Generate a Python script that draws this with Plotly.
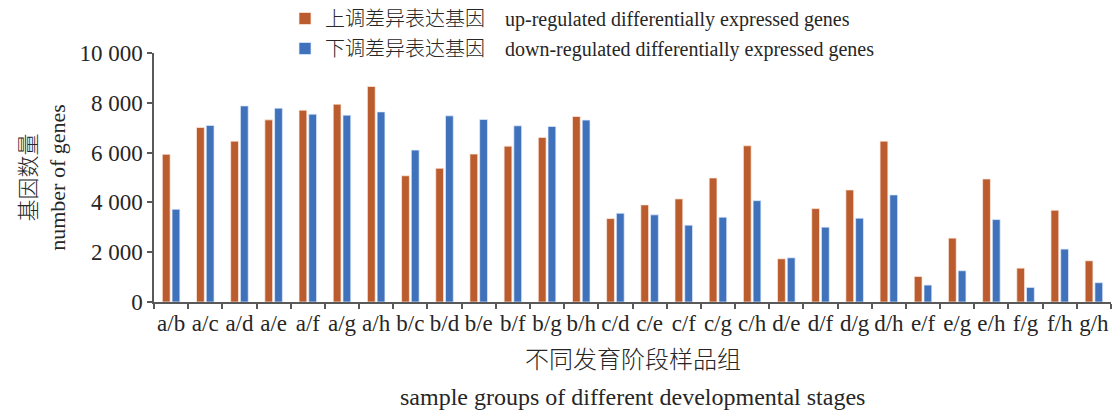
import plotly.graph_objects as go

categories = ["a/b", "a/c", "a/d", "a/e", "a/f", "a/g", "a/h", "b/c", "b/d", "b/e",
              "b/f", "b/g", "b/h", "c/d", "c/e", "c/f", "c/g", "c/h", "d/e", "d/f",
              "d/g", "d/h", "e/f", "e/g", "e/h", "f/g", "f/h", "g/h"]
up_regulated = [5930, 7010, 6460, 7315, 7705, 7945, 8655, 5070, 5370, 5940,
                6260, 6610, 7450, 3350, 3900, 4140, 4980, 6275, 1735, 3750,
                4500, 6460, 1025, 2565, 4940, 1360, 3685, 1655]
down_regulated = [3725, 7090, 7875, 7785, 7545, 7505, 7635, 6100, 7475, 7330,
                  7075, 7050, 7305, 3565, 3500, 3085, 3405, 4070, 1775, 3005,
                  3365, 4300, 680, 1255, 3310, 585, 2125, 775]
y_ticks = [0, 2000, 4000, 6000, 8000, 10000]
y_tick_labels = ["0", "2 000", "4 000", "6 000", "8 000", "10 000"]

SP = "&nbsp;&nbsp;&nbsp;&nbsp;"
CJK = "font-weight:300"
up_name = (f"<span style='font-size:20px;{CJK}'>上调差异表达基因</span>" + SP +
           "<span style='font-size:20px'>up-regulated differentially expressed genes</span>")
down_name = (f"<span style='font-size:20px;{CJK}'>下调差异表达基因</span>" + SP +
             "<span style='font-size:20px'>down-regulated differentially expressed genes</span>")
y_title = f"<span style='{CJK}'>基因数量</span><br>number of genes"
x_title_cn = "不同发育阶段样品组"
x_title_en = "sample groups of different developmental stages"

FONT = "Liberation Serif, Noto Sans CJK SC, serif"
TXT = "#262626"
AX = "#595959"

W, H = 1113, 411
L, R, T, B = 154, 2, 53, 109
PH = H - T - B
PW = W - L - R


def px_x(px):
    return (px - L) / PW


def px_y(py):
    return (H - B - py) / PH


fig = go.Figure()
fig.add_trace(go.Bar(x=categories, y=up_regulated, name=up_name, legend="legend",
                     marker=dict(color="#BA5C2D", line=dict(color="rgba(255,235,225,0.9)", width=0.8))))
fig.add_trace(go.Bar(x=categories, y=down_regulated, name=down_name, legend="legend2",
                     marker=dict(color="#3F72BA", line=dict(color="rgba(225,235,255,0.9)", width=0.8))))

leg_common = dict(xanchor="left", yanchor="top", font=dict(size=20, family=FONT, color=TXT),
                  bgcolor="rgba(0,0,0,0)", itemwidth=30)

fig.update_layout(
    width=W, height=H,
    margin=dict(l=L, r=R, t=T, b=B, autoexpand=False),
    paper_bgcolor="white", plot_bgcolor="white",
    font=dict(family=FONT, size=20, color=TXT),
    barmode="group", bargap=0.43, bargroupgap=0.2,
    showlegend=True,
    legend=dict(x=px_x(285), y=px_y(-1), **leg_common),
    legend2=dict(x=px_x(285), y=px_y(29), **leg_common),
    xaxis=dict(type="category", showline=True, linecolor=AX, linewidth=1.5,
               ticks="outside", tickson="boundaries", ticklen=5, tickcolor=AX, tickwidth=1.5,
               showgrid=False, tickfont=dict(size=23, family=FONT, color=TXT), tickangle=0),
    yaxis=dict(range=[0, 10000], tickvals=y_ticks, ticktext=y_tick_labels,
               showline=True, linecolor=AX, linewidth=1.5, ticks="outside", ticklen=5,
               tickcolor=AX, tickwidth=1.5, showgrid=False, zeroline=False,
               tickfont=dict(size=23, family=FONT, color=TXT),
               title=dict(text=y_title, standoff=8,
                          font=dict(size=22, family=FONT, color=TXT))),
    annotations=[
        dict(text=x_title_cn, xref="paper", yref="paper", x=0.5, y=0,
             yshift=-58, showarrow=False, xanchor="center", yanchor="middle",
             font=dict(size=24, family=FONT, color=TXT, weight=300)),
        dict(text=x_title_en, xref="paper", yref="paper",
             x=0.5, y=0, yshift=-95, showarrow=False, xanchor="center", yanchor="middle",
             font=dict(size=24, family=FONT, color=TXT)),
    ],
)

fig.write_html("out.html", config={"displayModeBar": False},
               post_script="document.body.style.margin='0';document.body.style.overflow='hidden';")
